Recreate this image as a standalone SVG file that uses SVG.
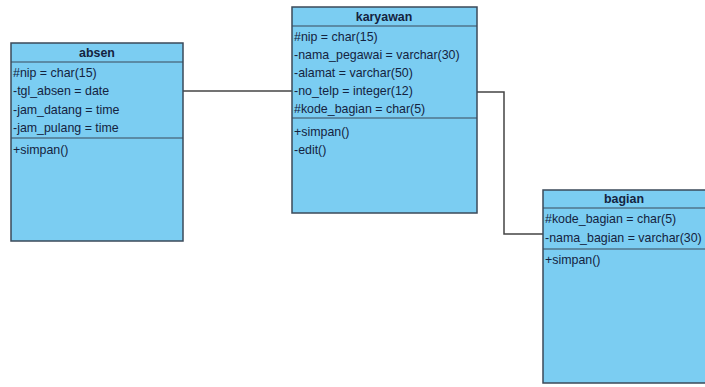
<svg xmlns="http://www.w3.org/2000/svg" width="705" height="387" viewBox="0 0 705 387">
<style>
.box{fill:#7bcdf2;stroke:#3b4a5a;stroke-width:1.5}
.sep{stroke:#3b4a5a;stroke-width:1.2}
.t{font-family:"Liberation Sans",Arial,sans-serif;font-size:12.4px;fill:#14233f}
.h{font-family:"Liberation Sans",Arial,sans-serif;font-size:12.4px;font-weight:bold;fill:#14233f;text-anchor:middle}
.c{fill:none;stroke:#444;stroke-width:1.5}
</style>
<rect width="705" height="387" fill="#ffffff"/>
<g id="connectors">
<path class="c" d="M183 91 H292"/>
<path class="c" d="M477 92 H504 V234 H543"/>
</g>
<g id="absen">
<rect class="box" x="11" y="43" width="172" height="198"/>
<line class="sep" x1="11" y1="62" x2="183" y2="62"/>
<line class="sep" x1="11" y1="138" x2="183" y2="138"/>
<text class="h" x="97" y="57">absen</text>
<text class="t" x="13" y="77">#nip = char(15)</text>
<text class="t" x="13" y="95">-tgl_absen = date</text>
<text class="t" x="13" y="114">-jam_datang = time</text>
<text class="t" x="13" y="132">-jam_pulang = time</text>
<text class="t" x="13" y="154">+simpan()</text>
</g>
<g id="karyawan">
<rect class="box" x="292" y="7" width="185" height="206"/>
<line class="sep" x1="292" y1="26" x2="477" y2="26"/>
<line class="sep" x1="292" y1="118" x2="477" y2="118"/>
<text class="h" x="384" y="21">karyawan</text>
<text class="t" x="294" y="41">#nip = char(15)</text>
<text class="t" x="294" y="59">-nama_pegawai = varchar(30)</text>
<text class="t" x="294" y="77">-alamat = varchar(50)</text>
<text class="t" x="294" y="95">-no_telp = integer(12)</text>
<text class="t" x="294" y="113">#kode_bagian = char(5)</text>
<text class="t" x="294" y="136">+simpan()</text>
<text class="t" x="294" y="154">-edit()</text>
</g>
<g id="bagian">
<rect class="box" x="543" y="190" width="170" height="193"/>
<line class="sep" x1="543" y1="208" x2="713" y2="208"/>
<line class="sep" x1="543" y1="249" x2="713" y2="249"/>
<text class="h" x="624" y="203">bagian</text>
<text class="t" x="545" y="223">#kode_bagian = char(5)</text>
<text class="t" x="545" y="242">-nama_bagian = varchar(30)</text>
<text class="t" x="545" y="264">+simpan()</text>
</g>
</svg>
